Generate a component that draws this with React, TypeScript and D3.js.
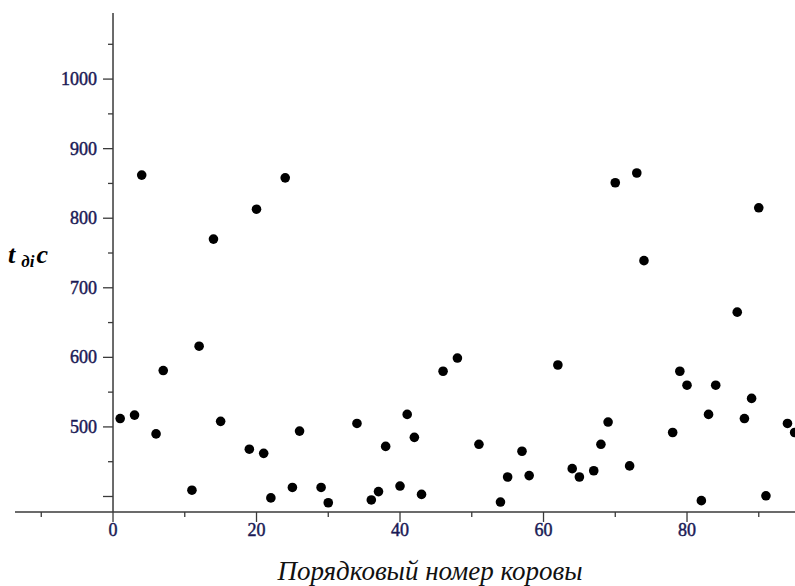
import * as d3 from "d3";

const W = 795;
const H = 586;

// cow number (x) and value t (y)
const cowNo = [
  1, 3, 4, 6, 7, 11, 12, 14, 15, 19, 20, 21, 22, 24, 25, 26, 29, 30, 34, 36,
  37, 38, 40, 41, 42, 43, 46, 48, 51, 54, 55, 57, 58, 62, 64, 65, 67, 68, 69,
  70, 72, 73, 74, 78, 79, 80, 82, 83, 84, 87, 88, 89, 90, 91, 94, 95,
];
const tValues = [
  512, 517, 862, 490, 581, 409, 616, 770, 508, 468, 813, 462, 398, 858, 413,
  494, 413, 391, 505, 395, 407, 472, 415, 518, 485, 403, 580, 599, 475, 392,
  428, 465, 430, 589, 440, 428, 437, 475, 507, 851, 444, 865, 739, 492, 580,
  560, 394, 518, 560, 665, 512, 541, 815, 401, 505, 492,
];

const xMajor = [0, 20, 40, 60, 80];
const xMinor = [-10, 10, 30, 50, 70, 90];
const yMajor = [400, 500, 600, 700, 800, 900, 1000];
const yLabels = [500, 600, 700, 800, 900, 1000];
const yMinor = [450, 550, 650, 750, 850, 950, 1050];

const xLabel = "Порядковый номер коровы";

const SERIF = "'Liberation Serif', 'Times New Roman', serif";
const AXIS = "#3a3a3a";
const TICK_TEXT = "#1a1a55";

export default function App() {
  const x = d3.scaleLinear().domain([-13.66, 95.05]).range([15, 795]);
  const y = d3.scaleLinear().domain([377.7, 1095]).range([512, 13]);
  const x0 = x(0);
  const y0 = y(377.7);

  return (
    <svg
      width={W}
      height={H}
      style={{ position: "absolute", left: 0, top: 0, background: "#fff" }}
      fontFamily={SERIF}>
      {/* axes */}
      <line x1={x(-13.66)} x2={W} y1={y0} y2={y0} stroke={AXIS} strokeWidth={1.5} />
      <line x1={x0} x2={x0} y1={y(1095)} y2={y0} stroke={AXIS} strokeWidth={1.5} />

      {/* y ticks */}
      {yMajor.map((v) => (
        <line key={"ym" + v} x1={x0 - 10} x2={x0} y1={y(v)} y2={y(v)} stroke={AXIS} strokeWidth={1.3} />
      ))}
      {yMinor.map((v) => (
        <line key={"yn" + v} x1={x0 - 5} x2={x0} y1={y(v)} y2={y(v)} stroke={AXIS} strokeWidth={1.3} />
      ))}
      {yLabels.map((v) => (
        <text
          key={"yl" + v}
          x={97}
          y={y(v)}
          dy="0.34em"
          textAnchor="end"
          fontSize={18}
          fill={TICK_TEXT}
          stroke={TICK_TEXT}
          strokeWidth={0.45}>
          {v}
        </text>
      ))}

      {/* x ticks */}
      {xMajor.map((v) => (
        <line key={"xm" + v} x1={x(v)} x2={x(v)} y1={y0} y2={y0 + 10} stroke={AXIS} strokeWidth={1.3} />
      ))}
      {xMinor.map((v) => (
        <line key={"xn" + v} x1={x(v)} x2={x(v)} y1={y0} y2={y0 + 5} stroke={AXIS} strokeWidth={1.3} />
      ))}
      {xMajor.map((v) => (
        <text
          key={"xl" + v}
          x={x(v)}
          y={536}
          textAnchor="middle"
          fontSize={18}
          fill={TICK_TEXT}
          stroke={TICK_TEXT}
          strokeWidth={0.45}>
          {v}
        </text>
      ))}

      {/* points */}
      {cowNo.map((c, i) => (
        <circle key={c} cx={x(c)} cy={y(tValues[i])} r={4.8} fill="#000" />
      ))}

      {/* axis titles */}
      <text x={430} y={580} textAnchor="middle" fontSize={27} fontStyle="italic" fill="#111">
        {xLabel}
      </text>
      <text x={8} y={263} fontStyle="italic" fontWeight="bold" fill="#000">
        <tspan fontSize={26}>t</tspan>
        <tspan fontSize={17} dx={6} dy={4}>дi</tspan>
        <tspan fontSize={26} dx={2} dy={-4}>c</tspan>
      </text>
    </svg>
  );
}
